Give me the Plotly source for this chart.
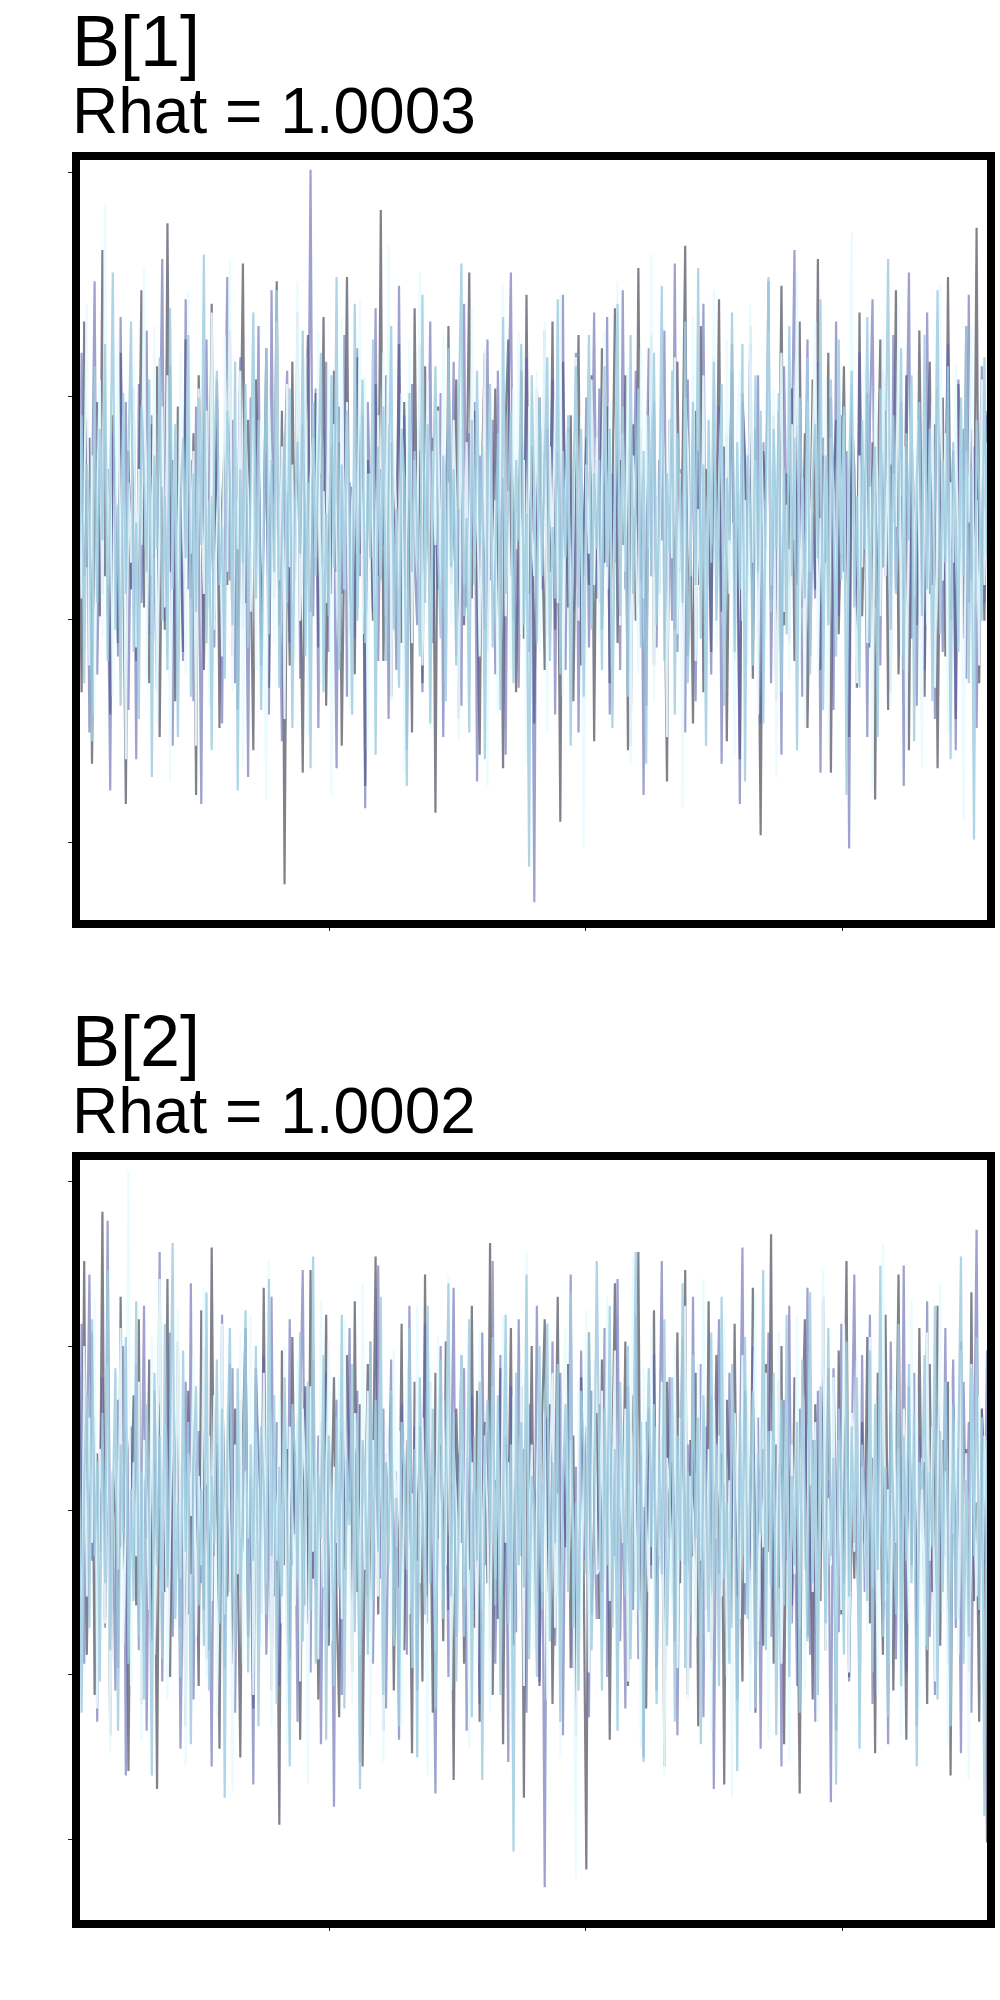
import plotly.graph_objects as go

# ---------- data: trace values (scaled units) ----------
b1_chain1 = [12,-35,48,-7,22,-51,3,30,-18,64,-9,15,-40,27,6,-24,41,-3,-60,19,
 -12,33,-28,8,55,-16,2,-33,25,-5,38,-45,11,-21,70,-8,17,-37,29,-2,
 -26,44,0,-14,23,-58,36,9,-30,14,-4,52,-19,31,-43,7,21,-11,46,-27,
 5,-39,18,61,-15,26,-6,-48,35,13,-23,4,42,-34,16,-1,57,-20,28,-78,
 10,-29,39,-10,24,-3,-53,20,45,-17,7,32,-25,1,49,-38,14,-13,37,-8,
 21,-47,3,58,-22,11,-31,40,-4,27,-56,17,6,-19,34,-9,73,-28,2,25,
 -36,13,-2,43,-24,30,-12,8,-44,51,-6,19,-33,38,4,-15,22,-62,29,-5,
 16,-27,47,-11,3,35,-41,24,-20,9,59,-14,28,-7,-49,18,41,-26,12,-3,
 33,-18,6,-52,26,44,-9,15,-35,2,37,-23,54,-13,20,-42,8,31,-1,-30,
 24,-8,48,-21,14,-64,39,5,-16,27,-37,10,45,-29,1,22,-11,36,-46,17,
 -15,42,-6,29,-33,8,51,-24,17,-2,36,-48,13,25,-19,60,-10,4,-38,22,45,-29,9,-13,31,
 -4,-55,26,12,-21,39,-8,18,65,-27,3,-42,28,-11,47,-35,15,7,-26,34,-1,53,-17,20,-46,
 11,37,-23,2,-50,30,16,-9,43,-32,24,-5,-67,19,8,40,-14,27,-37,5,56,-20,14,-3,33,
 -28,10,48,-16,23,-43,1,35,-12,62,-30,18,-6,41,-53,13,26,-22,7,38,-10,-45,29,15,-34,
 50,-18,4,32,-25,21,-59,12,44,-7,28,-39,16,3,55,-31,9,-14,36,-48,22,6,-20,46,-2,
 -36,17,39,-11,25,-52,10,31,-27,58,-4,19,-41,34,1,-23,47,-15,24,-8,69,-33,13,-19,27]
b1_chain2 = [-20,41,-9,26,-44,15,57,-31,4,-13,36,-2,-57,23,12,-27,49,-6,30,-39,
 8,19,-50,34,-15,2,46,-22,27,-8,-35,14,62,-19,5,38,-47,21,-4,11,
 -28,53,-12,17,-37,29,3,-60,24,44,-16,9,-25,35,-1,-42,18,58,-10,26,
 -33,6,40,-21,13,-54,31,22,-7,47,-29,1,19,-40,55,-14,28,-5,-46,16,
 37,-24,10,-3,50,-32,25,-11,7,82,-18,33,-43,14,-6,39,-26,20,2,-52,
 29,-13,45,-36,12,3,-23,42,-9,18,-61,30,8,-17,51,-28,15,-2,36,-41,
 21,4,-30,56,-14,27,-48,11,34,-6,-20,43,-35,17,1,48,-24,9,-12,32,
 -45,14,25,-8,39,-27,6,-38,52,-16,23,-3,30,-55,18,7,-21,44,-10,26,
 -31,37,-1,13,-49,28,59,-19,4,-34,21,-7,40,-26,11,-82,33,16,-12,46,
 -22,9,35,-40,19,-5,54,-30,24,2,-17,41,-44,15,-9,31,-25,6,50,-14,
 33,-21,7,49,-40,14,-6,28,-30,55,-12,20,-47,3,37,-16,24,-58,11,42,-9,30,-25,17,-1,
 46,-34,8,-19,61,-26,15,2,-44,35,-10,26,-37,19,-4,52,-22,6,-31,40,-15,29,-51,13,23,
 -7,43,-28,10,-60,32,18,-13,47,-20,4,36,-42,21,-3,57,-33,12,-17,28,-49,38,1,-24,16,
 64,-11,25,-36,9,44,-27,5,-14,39,-53,22,14,-5,31,-39,48,-18,27,-8,19,-70,34,7,-21,
 41,-2,15,-45,26,53,-16,10,-29,37,-9,23,-35,45,-12,2,30,-56,18,59,-23,8,-38,27,-6,
 -30,50,-13,22,-41,33,4,-26,16,43,-19,11,-48,35,-3,24,-32,54,-10,20,-43,6,38,-15,28]
b1_chain3 = [31,-14,6,52,-29,18,-40,9,35,-23,74,-11,20,-36,3,44,-18,27,-50,12,
 -6,39,-25,15,-2,60,-33,22,-9,47,-42,8,29,-16,36,-55,1,24,-20,41,
 11,-31,55,-4,19,-47,33,6,-13,28,-38,50,-21,3,17,-27,45,-8,62,-35,
 14,-3,37,-52,23,9,-17,43,-30,5,26,-12,-59,31,7,-24,48,-10,20,-41,
 34,-7,16,-28,57,-19,2,40,-45,13,22,-5,46,-33,10,-15,38,-58,25,-1,
 -26,49,-12,30,-39,8,18,-4,53,-22,36,-48,14,0,-31,27,-9,41,-18,65,
 -37,21,4,-14,32,-53,11,44,-24,17,-6,59,-29,7,35,-43,19,-2,28,-16,
 45,-33,12,-20,26,3,-46,38,-11,21,-35,51,-7,15,-27,4,42,-56,30,-13,
 8,-40,24,56,-18,10,-30,33,-3,46,-22,17,-51,29,1,-9,37,-26,13,48,
 -44,20,-6,31,-15,54,-36,9,23,-28,2,40,-19,27,-70,16,-4,35,-11,22,
 -24,15,46,-12,30,-39,5,57,-20,23,-8,38,-51,18,2,-31,42,-14,27,-3,63,-37,11,-18,34,
 9,-45,26,-5,40,-22,14,-61,31,19,-9,49,-28,6,-16,36,-41,21,-2,55,-25,12,29,-35,44,
 -13,3,-49,24,37,-19,8,-29,52,-6,17,-40,28,1,-23,46,-11,33,-54,15,41,-17,7,-32,25,
 -1,59,-26,13,-43,30,-8,21,48,-30,4,-15,35,-47,22,10,-21,43,-4,27,-36,16,68,-12,-33,
 18,-7,39,-24,11,-57,32,6,-18,45,-9,24,-38,14,2,51,-27,20,-46,9,34,-14,26,-3,-52,
 40,-20,5,30,-34,17,56,-10,23,-44,12,-6,38,-25,29,-64,19,3,47,-16,8,-29,35,-11,21]
b1_chain4 = [-10,27,-33,16,5,-46,38,-15,24,-1,43,-28,11,59,-21,7,-38,32,-13,20,
 48,-26,3,-41,29,13,-8,35,-54,18,-3,40,-19,9,-30,51,-12,25,-45,6,
 22,-5,45,-36,14,-17,31,-2,63,-24,8,-48,19,37,-11,2,-32,28,12,-20,
 39,-57,15,-6,34,-25,10,50,-14,26,-39,4,42,-22,17,-8,55,-34,1,23,
 -15,33,-43,7,21,-4,46,-27,12,-52,30,-9,18,41,-35,5,-18,36,-7,58,
 -30,16,-12,28,3,-40,52,-19,9,35,-24,14,-5,44,-49,20,-10,29,-28,11,
 47,-21,6,-34,24,13,-56,32,-8,19,0,-27,54,-15,25,-42,10,38,-3,-23,
 18,-37,42,-7,15,-29,30,61,-18,4,-44,26,-11,37,-2,20,-50,13,34,-25,
 -6,23,-39,49,-13,8,28,-33,17,-1,43,-20,5,-74,36,11,-24,31,-9,16,
 40,-28,2,-14,53,-31,19,-5,27,-47,12,38,-16,24,-36,7,45,-21,14,-3,
 17,-30,38,-7,24,-43,12,52,-18,29,-2,-36,45,-13,8,33,-25,19,-51,27,-9,41,-20,4,56,
 -28,14,-4,37,-40,23,10,-15,48,-33,2,30,-11,60,-23,16,-47,26,-6,39,-19,7,34,-38,13,
 -1,50,-26,21,-12,43,-55,18,5,-29,36,-8,28,-42,11,58,-17,24,-3,32,-35,15,-22,47,-9,
 22,-48,31,6,-14,40,-31,12,25,-5,53,-39,18,-20,35,1,-27,44,-10,29,-58,14,37,-16,9,
 -34,26,-3,49,-24,11,20,-45,33,-7,16,62,-21,27,-13,4,42,-30,23,-1,36,-46,13,30,-18,
 45,-12,24,-37,8,55,-22,17,-6,38,-50,21,3,-26,31,-9,47,-33,15,-68,26,10,-19,40,-4]

b2_chain1 = [35,-12,60,-28,9,44,-37,17,-5,71,-20,26,-46,13,3,-31,52,-9,22,-54,
 6,30,-17,47,-39,11,-2,38,-25,15,-58,28,1,-14,56,-33,20,-7,42,-22,
 14,-44,31,-10,24,5,-35,49,-18,10,-27,63,-6,19,-49,33,8,-15,37,-30,
 27,-3,-51,21,45,-24,12,-40,36,2,-19,54,-12,29,-36,16,4,-66,40,-8,
 18,-29,43,-1,25,-47,9,32,-21,58,-11,15,-38,24,-4,48,-26,7,34,-16,
 -42,22,-9,39,13,-32,51,-14,28,-53,3,37,-23,11,61,-19,26,-45,17,0,
 30,-36,8,-13,46,-27,20,5,-50,33,-7,23,-34,57,-15,12,-41,35,-2,19,
 -25,42,-18,10,-56,27,3,39,-30,16,-9,50,-22,31,-43,6,24,-12,64,-37,
 11,-20,36,-48,19,2,45,-26,14,-8,32,-60,27,-3,41,-17,9,-35,25,47,
 -14,28,-39,6,52,-23,15,-4,37,-31,21,-46,12,34,-10,-76,44,-19,3,26,
 -20,38,-11,24,-47,16,55,-28,7,-3,42,-35,19,30,-14,62,-23,5,-40,27,-8,49,-31,12,21,
 -53,33,-2,15,-25,44,-12,8,58,-37,20,-6,35,-44,13,26,-18,51,-29,3,39,-10,17,-57,29,
 11,-22,46,-15,6,-34,31,23,-9,54,-41,14,1,-26,37,-5,66,-30,19,-13,41,-48,25,9,-17,
 34,-4,-59,22,47,-24,10,-38,28,2,-16,52,-27,36,-7,18,-45,40,-19,13,60,-33,7,-11,30,
 -42,24,-3,43,-21,16,-50,35,5,-28,48,-12,26,-36,11,57,-18,3,-47,32,-8,21,-24,45,-1,
 15,-39,37,-14,9,50,-26,20,-6,33,-55,28,4,-20,42,-10,18,-32,53,-16,6,-43,27,14,-70]
b2_chain2 = [-18,46,-30,12,57,-7,25,-43,8,34,-22,69,-13,2,-36,29,-4,41,-55,16,
 23,-9,37,-27,4,50,-45,14,-16,31,-3,62,-34,19,-11,44,-24,7,28,-49,
 -2,33,-19,55,-38,10,22,-12,40,-29,5,-53,27,15,-6,48,-31,20,-14,36,
 -41,12,29,-5,43,-20,7,-57,34,18,-10,39,-28,1,52,-15,24,-35,9,30,
 -26,47,-8,17,-43,26,58,-17,3,-32,38,-13,21,-48,11,35,-22,6,-62,29,
 14,-37,24,-1,45,-25,9,31,-52,19,4,-15,42,-30,16,59,-11,27,-40,8,
 38,-19,13,-47,28,2,-28,50,-9,23,-36,15,6,46,-21,33,-7,-59,20,41,
 -13,26,-33,9,54,-24,17,-3,36,-45,12,30,-18,5,-39,44,-8,22,-27,60,
 -30,7,39,-15,21,-52,32,1,-23,47,-6,18,-41,28,13,-12,50,-34,10,-80,
 25,-11,42,-26,6,35,-46,19,-2,57,-31,14,-17,40,-7,23,-42,31,4,-20,
 28,-14,45,-33,9,21,-6,56,-25,13,-40,32,2,-18,48,-29,17,-51,24,7,-11,39,-36,15,60,
 -22,4,34,-15,26,-46,11,43,-8,19,-31,52,-20,1,37,-42,23,-4,30,-58,16,47,-13,10,-27,
 35,-2,22,-38,14,63,-19,6,-30,41,-10,25,-49,18,3,44,-24,12,-16,33,-53,29,-7,50,-21,
 8,-35,27,15,-9,54,-28,20,-43,31,-1,40,-17,11,-61,36,5,-23,46,-12,24,-34,17,57,-5,
 -26,39,-14,8,48,-39,19,-3,30,-20,13,-48,42,2,-29,26,-10,59,-32,16,-7,35,-44,21,6,
 -17,51,-24,14,-37,28,3,-12,45,-30,9,38,-22,18,-50,33,-1,24,-41,12,67,-19,27,-8,40]
b2_chain3 = [8,-32,41,-15,25,-3,52,-40,18,6,-21,37,-50,13,30,-9,45,-26,2,80,
 -35,15,-6,33,-47,20,9,-18,43,-28,11,56,-14,24,-38,4,36,-22,49,-11,
 26,-53,17,3,39,-24,12,-8,54,-33,21,-16,30,-42,7,46,-19,28,-4,-59,
 19,-10,44,-30,13,-2,48,-37,22,5,-26,35,-12,60,-44,16,-7,29,-21,41,
 -48,23,2,-17,38,-34,27,10,-57,32,-5,18,-29,51,-13,9,42,-25,14,-3,
 34,-20,47,-11,6,-39,26,16,-28,55,-9,31,-46,20,1,-15,38,-52,24,12,
 -24,40,-4,22,-44,14,33,-19,8,-31,50,-12,25,-6,-55,36,10,-27,43,-16,
 29,-8,57,-36,18,4,-23,39,-13,27,-49,15,7,-30,44,-18,21,3,-41,32,
 -11,24,-29,48,-3,15,-46,30,11,-20,37,-35,62,-9,19,-27,5,41,-14,26,
 -38,12,35,-22,8,-51,28,45,-16,20,-4,-78,33,-25,14,49,-32,6,38,-10,
 -9,31,-26,52,-16,7,40,-44,19,-3,27,-34,14,61,-21,10,-49,36,2,-14,45,-28,23,-6,33,
 -55,16,8,-19,42,-31,25,-11,50,-38,12,3,-24,37,-7,56,-29,18,-45,29,-2,21,-15,47,-33,
 11,-60,26,6,-20,39,-12,32,-41,15,53,-25,9,-4,35,-47,22,13,-17,44,-30,4,28,-52,19,
 -10,48,-22,30,-36,1,41,-14,24,-43,17,58,-27,7,-8,34,-39,20,-18,46,10,-32,26,-5,38,
 -50,14,2,-23,43,-13,29,-37,22,64,-16,9,-30,35,-3,18,-46,27,12,-21,51,-9,31,-40,16,
 -26,44,-7,23,-34,6,55,-19,13,-48,32,-1,25,-28,40,-12,17,-56,37,4,-15,30,-35,21,-2]
b2_chain4 = [20,-41,11,30,-22,47,-6,15,-34,26,-12,58,-27,4,36,-45,19,-1,43,-30,
 9,-16,51,-24,13,-38,28,2,-55,35,-8,21,-29,46,-13,17,64,-20,6,-33,
 40,-5,24,-48,15,32,-17,9,-26,53,-36,12,-3,38,-21,27,-60,18,45,-9,
 -27,36,-14,5,49,-32,19,-7,41,-44,23,10,-19,56,-6,30,-39,14,-15,34,
 3,-53,28,17,-11,44,-25,8,33,-18,61,-30,12,-2,39,-47,21,7,-35,25,
 -13,48,-40,16,1,37,-23,26,-58,20,11,-28,42,-16,29,-5,52,-37,15,-8,
 31,-26,7,-44,24,13,-9,45,-31,18,-51,34,3,-19,50,-12,27,-40,9,38,
 -20,14,55,-15,26,-34,6,39,-24,2,47,-42,21,-7,33,-56,16,29,-3,43,
 -17,30,-37,10,48,-21,19,-72,35,-8,24,-13,57,-29,12,4,-33,41,-18,22,
 46,-25,15,-3,37,-43,11,28,-14,53,-22,6,-36,31,18,-10,44,-27,2,60,
 14,-36,27,-8,50,-22,18,-45,33,5,-15,41,-29,12,62,-18,24,-52,9,36,-4,28,-39,16,-10,
 47,-26,3,34,-43,21,-7,55,-31,13,-19,39,-2,25,-48,30,8,-23,44,-14,19,-35,52,-11,6,
 -30,37,15,-54,26,-6,43,-20,10,31,-40,17,-1,58,-27,22,-13,35,-46,4,29,-17,48,-33,12,
 -8,24,-41,38,7,-25,53,-12,20,-37,32,1,-21,45,-6,16,-57,27,11,-28,42,-15,23,-3,34,
 -49,19,6,-16,40,-32,28,-9,59,-24,14,-42,31,2,-19,46,-35,21,-7,37,-12,26,-53,15,9,
 39,-27,13,-4,50,-38,22,-14,33,3,-44,28,-20,17,61,-30,11,-24,36,-6,43,-18,25,-64,20]

chain_colors = ["rgba(70,70,85,0.68)", "rgba(90,95,170,0.58)",
                "rgba(232,252,255,0.9)", "rgba(160,205,225,0.85)"]

titles = ["B[1]", "B[2]"]
rhats = ["Rhat = 1.0003", "Rhat = 1.0002"]

panels = [[b1_chain1, b1_chain2, b1_chain3, b1_chain4],
          [b2_chain1, b2_chain2, b2_chain3, b2_chain4]]

fig = go.Figure()
for p, chains in enumerate(panels):
    xa = "x" if p == 0 else "x2"
    ya = "y" if p == 0 else "y2"
    for c, vals in enumerate(chains):
        fig.add_trace(go.Scatter(x=list(range(len(vals))), y=vals, mode="lines",
                                 line=dict(color=chain_colors[c], width=2.2),
                                 xaxis=xa, yaxis=ya, showlegend=False,
                                 hoverinfo="skip"))

n = len(b1_chain1)
W, H = 1000, 2000
xdom = [79 / W, 987 / W]
xt = [96.1, 194.5, 293.3]
ax_common = dict(showgrid=False, zeroline=False, showticklabels=False,
                 ticks="outside", ticklen=10, tickwidth=1, tickcolor="#222")
fig.update_layout(
    width=W, height=H, margin=dict(l=0, r=0, t=0, b=0),
    paper_bgcolor="white", plot_bgcolor="white",
    xaxis=dict(domain=xdom, range=[0, n - 1], tickvals=xt, anchor="y", **ax_common),
    yaxis=dict(domain=[1 - 920 / H, 1 - 159 / H], range=[-86, 84.4],
               tickvals=[-68.7, -18.7, 31.3, 81.3], anchor="x", **ax_common),
    xaxis2=dict(domain=xdom, range=[0, n - 1], tickvals=xt, anchor="y2", **ax_common),
    yaxis2=dict(domain=[1 - 1920 / H, 1 - 1159 / H], range=[-87.3, 82.8],
                tickvals=[-69.4, -32.5, 4.3, 41.0, 77.7], anchor="x2", **ax_common),
)

for p in range(2):
    off = p * 1000
    fig.add_shape(type="rect", xref="paper", yref="paper",
                  x0=76 / W, x1=991 / W, y0=1 - (924 + off) / H, y1=1 - (156 + off) / H,
                  line=dict(color="black", width=8), fillcolor="rgba(0,0,0,0)")
    fig.add_annotation(text=titles[p], xref="paper", yref="paper",
                       x=71 / W, y=1 - (41 + off) / H, xanchor="left", yanchor="middle",
                       showarrow=False, borderpad=0,
                       font=dict(family="Liberation Sans, Arial", size=72, color="black"))
    fig.add_annotation(text=rhats[p], xref="paper", yref="paper",
                       x=71 / W, y=1 - (111 + off) / H, xanchor="left", yanchor="middle",
                       showarrow=False, borderpad=0,
                       font=dict(family="Liberation Sans, Arial", size=64, color="black"))

fig.write_html("out.html")
